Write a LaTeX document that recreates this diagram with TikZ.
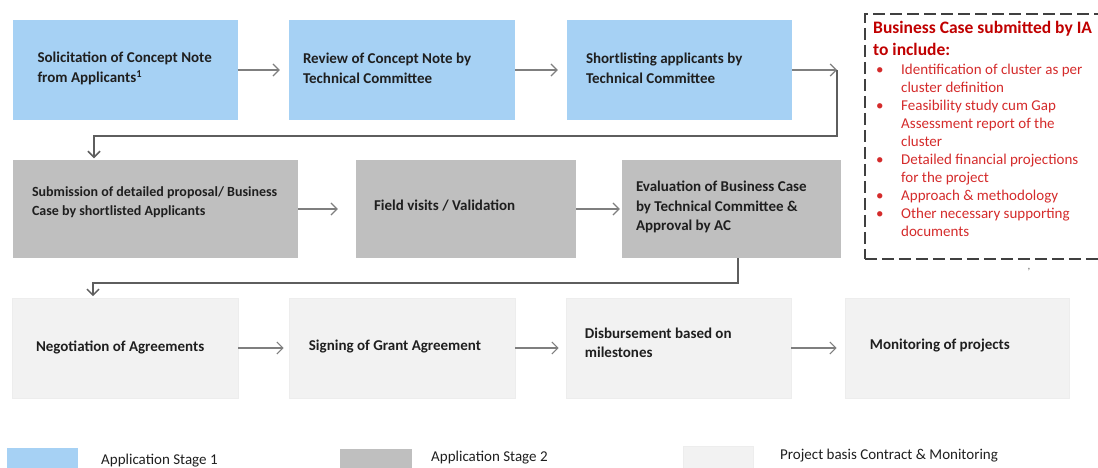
\documentclass[tikz,border=0pt]{standalone}
\usepackage{fontspec}
\setmainfont{Carlito}
\usetikzlibrary{arrows.meta}
\definecolor{bluebox}{HTML}{A6D1F4}
\definecolor{graybox}{HTML}{BFBFBF}
\definecolor{lightbox}{HTML}{F2F2F2}
\definecolor{arrgray}{HTML}{7F7F7F}
\definecolor{wrapgray}{HTML}{5E5E5E}
\definecolor{iared}{HTML}{C00000}
\definecolor{itemred}{HTML}{D42B2B}
\definecolor{dashgray}{HTML}{404040}
\begin{document}
\begin{tikzpicture}[x=1pt,y=-1pt,
  box/.style={rectangle, inner sep=0pt, draw=none},
  sone/.style={box, fill=bluebox},
  stwo/.style={box, fill=graybox},
  sthree/.style={box, fill=lightbox, draw=black!7, line width=0.6pt},
  lbl/.style={inner sep=0pt, align=left, anchor=west, text=black!88,
    font=\fontsize{15}{19.5}\selectfont\bfseries},
  leg/.style={inner sep=0pt, anchor=west, text=black!88,
    font=\fontsize{15}{18}\selectfont},
  flow/.style={draw=arrgray, line width=1.2pt, -{Straight Barb[length=6pt,width=12pt]}},
  wrapline/.style={draw=wrapgray, line width=1.5pt, -{Straight Barb[length=6pt,width=12pt]}},
]
\useasboundingbox (0,0) rectangle (1098,468);
\clip (0,0) rectangle (1098,468);

% Row 1
\node[sone, minimum width=225pt, minimum height=100pt] (b1) at (125,70) {};
\node[sone, minimum width=226pt, minimum height=100pt] (b2) at (402,70) {};
\node[sone, minimum width=225pt, minimum height=100pt] (b3) at (679.5,70) {};
\node[lbl] (t1) at ([xshift=25pt,yshift=1.5pt]b1.west) {Solicitation of Concept Note\\from Applicants\textsuperscript{1}};
\node[lbl] (t2) at ([xshift=14pt,yshift=1.5pt]b2.west) {Review of Concept Note by\\Technical Committee};
\node[lbl] (t3) at ([xshift=19pt,yshift=1.5pt]b3.west) {Shortlisting applicants by\\Technical Committee};

% Row 2
\node[stwo, minimum width=285.5pt, minimum height=98pt] (b4) at (155.25,209) {};
\node[stwo, minimum width=220pt, minimum height=98pt] (b5) at (466,209) {};
\node[stwo, minimum width=219pt, minimum height=98pt] (b6) at (731.5,209) {};
\node[lbl, font=\fontsize{14}{19}\selectfont\bfseries] (t4) at ([xshift=19.5pt,yshift=6.5pt]b4.west) {Submission of detailed proposal/ Business\\Case by shortlisted Applicants};
\node[lbl] (t5) at ([xshift=18pt,yshift=3pt]b5.west) {Field visits / Validation};
\node[lbl] (t6) at ([xshift=14pt,yshift=2pt]b6.west) {Evaluation of Business Case\\by Technical Committee \&\\Approval by AC};

% Row 3
\node[sthree, minimum width=225.4pt, minimum height=100pt] (b7) at (125.3,348) {};
\node[sthree, minimum width=226pt, minimum height=100pt] (b8) at (402,348) {};
\node[sthree, minimum width=225pt, minimum height=100pt] (b9) at (678.5,348) {};
\node[sthree, minimum width=224pt, minimum height=100pt] (b10) at (957,348) {};
\node[lbl] (t7) at ([xshift=23.5pt,yshift=1pt]b7.west) {Negotiation of Agreements};
\node[lbl] (t8) at ([xshift=20pt,yshift=1pt]b8.west) {Signing of Grant Agreement};
\node[lbl] (t9) at ([xshift=19pt,yshift=5pt]b9.west) {Disbursement based on\\milestones};
\node[lbl] (t10) at ([xshift=25pt,yshift=2pt]b10.west) {Monitoring of projects};

% Arrows in rows
\draw[flow, shorten >=9pt] (b1.east) -- (b2.west);
\draw[flow, shorten >=9pt] (b2.east) -- (b3.west);
\coordinate (c1) at (837,70);
\draw[flow] (b3.east) -- (c1);
\coordinate (c2) at (94,136);
\draw[wrapline, shorten >=1.5pt] (c1) |- (c2) -- (c2 |- b4.north);

\draw[flow, shorten >=18pt] (b4.east) -- (b5.west);
\draw[flow, shorten >=2pt] (b5.east) -- (b6.west);
\coordinate (c3) at (738,283);
\coordinate (c4) at (93,283);
\draw[wrapline, shorten >=1.5pt] (c3 |- b6.south) -- (c3) -- (c4) -- (c4 |- b7.north);

\draw[flow, shorten >=5pt] (b7.east) -- (b8.west);
\draw[flow, shorten >=7pt] (b8.east) -- (b9.west);
\draw[flow, shorten >=8pt] (b9.east) -- (b10.west);

% Business case box (its right side runs off the picture)
\node[rectangle, draw=dashgray, line width=1.8pt, dash pattern=on 12pt off 5pt,
  minimum width=270pt, minimum height=245pt, inner sep=0pt, anchor=north west] (ia) at (864,13) {};
\node[inner sep=0pt, anchor=north west, align=left, text=iared,
  font=\fontsize{17.5}{22}\selectfont\bfseries] (iatitle) at (873,21) {Business Case submitted by IA\\to include:};
\node[inner sep=0pt, anchor=north west, align=left, text=itemred,
  font=\fontsize{15}{18}\selectfont] (ialist) at (873,64) {%
\hspace*{3pt}\makebox[25pt][l]{\textbullet}Identification of cluster as per\\
\hspace*{28pt}cluster definition\\
\hspace*{3pt}\makebox[25pt][l]{\textbullet}Feasibility study cum Gap\\
\hspace*{28pt}Assessment report of the\\
\hspace*{28pt}cluster\\
\hspace*{3pt}\makebox[25pt][l]{\textbullet}Detailed financial projections\\
\hspace*{28pt}for the project\\
\hspace*{3pt}\makebox[25pt][l]{\textbullet}Approach \& methodology\\
\hspace*{3pt}\makebox[25pt][l]{\textbullet}Other necessary supporting\\
\hspace*{28pt}documents};
\node[inner sep=0pt, text=black!60, font=\fontsize{11}{12}\selectfont] (stray) at (1029,270) {,};

% Legend
\node[sone, minimum width=71pt, minimum height=26pt] (sw1) at (42.5,461) {};
\node[stwo, minimum width=72pt, minimum height=26pt] (sw2) at (376,462) {};
\node[sthree, minimum width=70pt, minimum height=28pt] (sw3) at (718,460) {};
\node[leg] (l1) at (101,461) {Application Stage 1};
\node[leg] (l2) at (431,458) {Application Stage 2};
\node[leg] (l3) at (780,456) {Project basis Contract \& Monitoring};
\end{tikzpicture}
\end{document}
